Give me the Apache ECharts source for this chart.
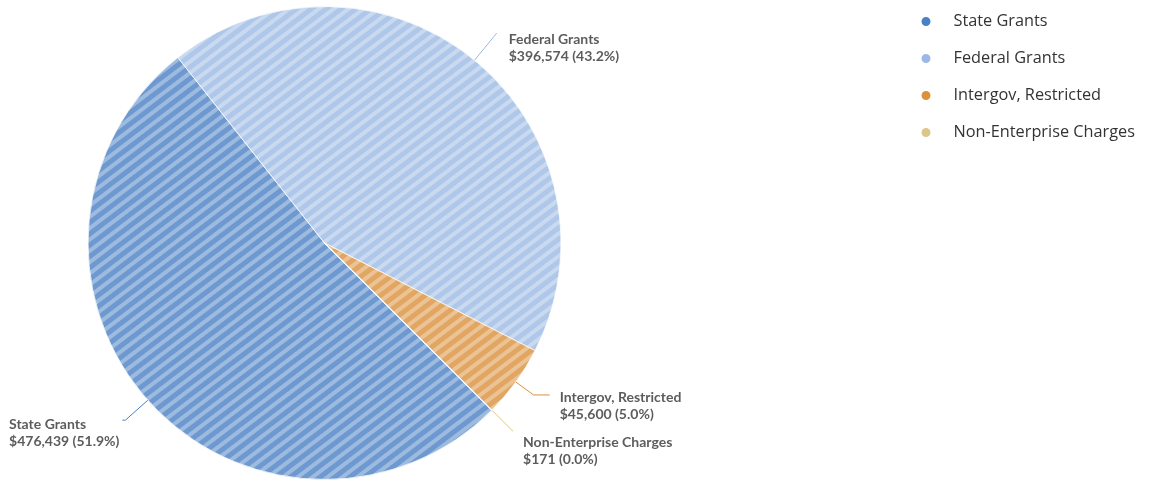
<!DOCTYPE html>
<html>
<head>
<meta charset="utf-8">
<title>Revenue Sources</title>
<script src="https://cdn.jsdelivr.net/npm/echarts@6/dist/echarts.min.js"></script>
<style>
  html, body { margin: 0; padding: 0; background: #fff; }
  #chart { width: 1149px; height: 482px; }
</style>
</head>
<body>
<div id="chart"></div>
<script>
// Revenue sources and amounts (USD)
const categories = ['State Grants', 'Federal Grants', 'Intergov, Restricted', 'Non-Enterprise Charges'];
const amounts = [476439, 396574, 45600, 171];
const percentLabels = ['51.9%', '43.2%', '5.0%', '0.0%'];
const colors = ['#4a80c4', '#9bb9e4', '#db903c', '#dcc68b'];

// Per-slice tweaks of the callout placement
const calloutStyles = [
  { padding: 26, gap: 3, length: 30, length2: 3 },
  { padding: 30, gap: 12, length: 35, length2: 0 },
  { padding: 23, gap: 10, length: 22, length2: 16 },
  { padding: 39, gap: 10, length: 30, length2: 0 }
];

const fmt = v => '$' + v.toLocaleString('en-US');

const chart = echarts.init(document.getElementById('chart'), null, { renderer: 'canvas' });

const stripeDecal = {
  symbol: 'rect',
  dashArrayX: [1, 0],
  dashArrayY: [4, 5],
  rotation: -0.65,
  color: 'rgba(255,255,255,0.4)'
};

const seriesData = categories.map((name, i) => ({
  name,
  value: amounts[i],
  pct: percentLabels[i],
  itemStyle: { color: colors[i], decal: stripeDecal },
  label: {
    padding: [calloutStyles[i].padding, 0, 0, 0],
    distanceToLabelLine: calloutStyles[i].gap
  },
  labelLine: { length: calloutStyles[i].length, length2: calloutStyles[i].length2 }
}));

chart.setOption({
  animation: false,
  color: colors,
  legend: {
    orient: 'vertical',
    left: 914.5,
    top: 6.5,
    icon: 'circle',
    itemWidth: 11,
    itemHeight: 11,
    itemGap: 17,
    itemStyle: { opacity: 1, decal: 'none' },
    textStyle: {
      fontFamily: 'Open Sans',
      fontSize: 16.3,
      color: '#333',
      lineHeight: 20,
      padding: [0, 0, 0, 17]
    },
    data: categories
  },
  series: [{
    type: 'pie',
    center: [324.5, 243],
    radius: 236.5,
    startAngle: -45,
    clockwise: true,
    avoidLabelOverlap: false,
    itemStyle: { opacity: 0.8, borderColor: '#fff', borderWidth: 0.6 },
    label: {
      show: true,
      position: 'outside',
      formatter: p => '{t|' + p.name + '}\n{t|' + fmt(p.value) + ' (' + p.data.pct + ')}',
      rich: {
        t: {
          fontFamily: 'Lato',
          fontWeight: 'bold',
          fontSize: 14,
          lineHeight: 17,
          color: '#333',
          align: 'left'
        }
      }
    },
    labelLine: {
      show: true,
      lineStyle: { width: 1 }
    },
    emphasis: { disabled: true },
    data: seriesData
  }]
});
</script>
</body>
</html>
